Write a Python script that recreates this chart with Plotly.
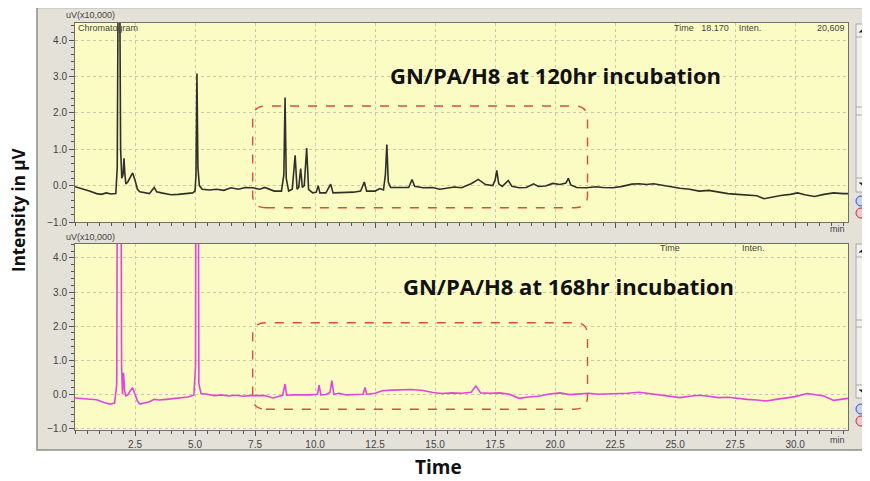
import plotly.graph_objects as go

# the page body has an 8px margin, so the figure is sized to the remaining viewport
OFF = 8
W, H = 870 - OFF, 481 - OFF

# chromatogram at 120 hr (time in min, intensity in uV x10,000)
t_120 = [0.0, 0.3, 0.6, 0.9, 1.1, 1.3, 1.5, 1.7, 1.76, 1.8, 1.86, 1.9, 1.95, 2.0, 2.04,
         2.08, 2.12, 2.2, 2.3, 2.4, 2.5, 2.6, 2.7, 2.9, 3.1, 3.3, 3.4, 3.6, 3.8, 4.0,
         4.3, 4.6, 4.9, 5.0, 5.04, 5.08, 5.12, 5.18, 5.3, 5.6, 5.9, 6.2, 6.5, 6.8, 7.1,
         7.4, 7.7, 7.9, 8.3, 8.6, 8.7, 8.75, 8.8, 8.9, 9.05, 9.17, 9.25, 9.32, 9.4, 9.47,
         9.55, 9.65, 9.73, 9.9, 10.05, 10.13, 10.2, 10.45, 10.65, 10.75, 11.0, 11.3, 11.6,
         11.9, 12.05, 12.15, 12.5, 12.7, 12.85, 12.93, 12.99, 13.05, 13.15, 13.5, 13.9,
         14.04, 14.15, 14.5, 14.9, 15.2, 15.5, 15.8, 16.1, 16.5, 16.8, 17.1, 17.4, 17.5,
         17.57, 17.65, 17.8, 18.05, 18.2, 18.5, 18.8, 19.1, 19.3, 19.6, 19.9, 20.2, 20.45,
         20.55, 20.65, 20.9, 21.3, 21.7, 22.0, 22.4, 22.8, 23.2, 23.5, 23.8, 24.1, 24.5,
         24.8, 25.2, 25.6, 26.0, 26.4, 26.8, 27.2, 27.6, 28.0, 28.4, 28.7, 29.0, 29.4,
         29.8, 30.1, 30.4, 30.8, 31.2, 31.6, 32.0, 32.2]
v_120 = [-0.03, -0.08, -0.15, -0.22, -0.24, -0.2, -0.23, -0.22, 0.5, 6.0, 6.0, 1.0, 0.2, 0.3, 0.75,
         0.3, 0.05, 0.1, 0.25, 0.35, 0.15, -0.1, -0.17, -0.2, -0.22, -0.05, -0.17, -0.2, -0.22, -0.25,
         -0.24, -0.23, -0.2, -0.15, 0.3, 3.08, 0.5, 0.0, -0.1, -0.12, -0.1, -0.13, -0.06, -0.1, -0.05,
         -0.06, -0.1, -0.05, -0.15, -0.15, 0.3, 2.42, 0.2, -0.15, -0.1, 0.83, -0.1, -0.05, 0.47, -0.05,
         0.0, 1.03, -0.1, -0.2, -0.18, 0.0, -0.2, -0.2, 0.04, -0.2, -0.2, -0.2, -0.18,
         -0.15, 0.1, -0.15, -0.15, -0.08, -0.12, 0.3, 1.13, 0.1, -0.05, -0.05, -0.05,
         0.17, -0.02, -0.06, -0.05, -0.1, -0.07, -0.04, -0.06, 0.05, 0.17, 0.03, 0.0, 0.15,
         0.42, 0.05, -0.02, 0.14, -0.02, -0.06, -0.05, 0.05, -0.02, -0.01, 0.06, 0.03, 0.07,
         0.2, 0.02, -0.05, -0.06, -0.03, -0.05, -0.06, -0.02, 0.04, 0.05, 0.03, 0.05, 0.0,
         -0.04, -0.07, -0.1, -0.15, -0.13, -0.18, -0.22, -0.24, -0.25, -0.28, -0.36, -0.32, -0.27,
         -0.24, -0.2, -0.25, -0.3, -0.24, -0.2, -0.22, -0.22]

# chromatogram at 168 hr
t_168 = [0.0, 0.3, 0.6, 0.9, 1.2, 1.46, 1.65, 1.74, 1.78, 1.9, 1.94, 1.98, 2.02, 2.07, 2.12,
         2.2, 2.3, 2.4, 2.5, 2.6, 2.7, 2.9, 3.1, 3.3, 3.5, 3.8, 4.1, 4.4, 4.7, 4.95,
         5.02, 5.05, 5.12, 5.16, 5.25, 5.5, 5.8, 6.1, 6.4, 6.7, 7.0, 7.3, 7.6, 7.9, 8.25,
         8.5, 8.65, 8.75, 8.82, 9.1, 9.5, 9.8, 10.1, 10.17, 10.24, 10.45, 10.62, 10.7, 10.78,
         11.0, 11.3, 11.7, 12.0, 12.08, 12.15, 12.5, 12.8, 13.2, 13.6, 14.0, 14.5, 14.9,
         15.3, 15.7, 16.1, 16.5, 16.7, 16.9, 17.3, 17.7, 18.1, 18.5, 18.9, 19.3, 19.7, 20.2,
         20.6, 21.0, 21.4, 21.8, 22.2, 22.6, 23.0, 23.5, 23.9, 24.3, 24.7, 25.2, 25.6, 26.0,
         26.4, 26.8, 27.2, 27.6, 28.0, 28.4, 28.8, 29.2, 29.6, 30.0, 30.5, 30.9, 31.2, 31.6,
         32.0, 32.2]
v_168 = [-0.11, -0.12, -0.15, -0.16, -0.24, -0.29, -0.26, 0.3, 12.0, 12.0, 0.83, 0.0, 0.63, 0.1, -0.05,
         -0.02, 0.1, 0.19, 0.0, -0.2, -0.29, -0.25, -0.22, -0.15, -0.17, -0.15, -0.13, -0.1, -0.08, -0.03,
         0.8, 12.0, 12.0, 0.3, 0.02, 0.0, -0.04, -0.02, -0.05, -0.03, -0.06, -0.04, -0.05, -0.04, -0.11,
         -0.06, -0.03, 0.3, -0.03, -0.02, -0.03, -0.02, 0.0, 0.27, -0.02, -0.01, 0.05, 0.4, 0.0,
         0.03, -0.02, -0.01, 0.0, 0.2, 0.0, 0.03, 0.1, 0.12, 0.13, 0.14, 0.11, 0.05,
         0.02, 0.04, 0.03, 0.06, 0.24, 0.04, 0.03, 0.04, 0.0, -0.12, -0.08, -0.06, 0.0, 0.04,
         -0.01, 0.0, 0.03, 0.0, 0.01, 0.0, 0.03, 0.06, 0.02, -0.03, -0.05, -0.1, -0.06, -0.03,
         -0.06, -0.1, -0.09, -0.13, -0.15, -0.17, -0.2, -0.15, -0.1, -0.07, 0.02, -0.03, -0.05, -0.18,
         -0.14, -0.12]

x_ticks = [2.5, 5.0, 7.5, 10.0, 12.5, 15.0, 17.5, 20.0, 22.5, 25.0, 27.5, 30.0]
y_ticks = [-1.0, 0.0, 1.0, 2.0, 3.0, 4.0]

# highlighted retention-time window (min) and intensity span per panel
box_t = (7.4, 21.35)
box_v_120 = (-0.61, 2.19)
box_v_168 = (-0.44, 2.1)


def px(x):
    return (x - OFF) / W


def py(y):
    return 1 - (y - OFF) / H


def rounded_box(t0, t1, v0, v1, rt, rv):
    return (f"M {t0 + rt},{v0} L {t1 - rt},{v0} Q {t1},{v0} {t1},{v0 + rv} "
            f"L {t1},{v1 - rv} Q {t1},{v1} {t1 - rt},{v1} L {t0 + rt},{v1} "
            f"Q {t0},{v1} {t0},{v1 - rv} L {t0},{v0 + rv} Q {t0},{v0} {t0 + rt},{v0} Z")


def tri(xc, yc, up):
    # small scroll arrow in pixel space -> paper path
    d = -3 if up else 3
    return (f"M {px(xc - 3.5)},{py(yc - d / 2)} L {px(xc + 3.5)},{py(yc - d / 2)} "
            f"L {px(xc)},{py(yc + d / 2)} Z")


fig = go.Figure()
fig.add_trace(go.Scatter(x=t_120, y=v_120, xaxis="x", yaxis="y", mode="lines",
                         line=dict(color="#30302a", width=1.6), showlegend=False))
fig.add_trace(go.Scatter(x=t_168, y=v_168, xaxis="x2", yaxis="y2", mode="lines",
                         line=dict(color="#e045dc", width=1.6), showlegend=False))

tick_font = dict(family="Liberation Sans, Arial", size=10, color="#444444")
xdom = [px(75), px(848)]

xaxis_common = dict(
    range=[0, 32.2], tickvals=x_ticks, tickformat=".1f", ticks="outside", ticklen=5,
    tickcolor="#555555", showline=True, linecolor="#707068", linewidth=1, mirror=True,
    showgrid=True, gridcolor="#c9c9ad", griddash="dot", gridwidth=1, zeroline=False,
    tickfont=tick_font, domain=xdom, automargin=False,
    minor=dict(tickmode="linear", tick0=0, dtick=0.5, ticks="outside", ticklen=3,
               tickcolor="#555555", showgrid=False),
)
yaxis_common = dict(
    tickvals=y_ticks, tickformat=".1f", ticks="outside", ticklen=5, tickcolor="#555555",
    showline=True, linecolor="#707068", linewidth=1, mirror=True, automargin=False,
    showgrid=True, gridcolor="#c9c9ad", griddash="dot", zeroline=False, tickfont=tick_font,
    minor=dict(tickmode="linear", tick0=0, dtick=0.2, ticks="outside", ticklen=3,
               tickcolor="#555555", showgrid=False),
)

fig.update_layout(
    width=W, height=H, margin=dict(l=0, r=0, t=0, b=0, pad=0),
    paper_bgcolor="white", plot_bgcolor="rgba(0,0,0,0)",
    xaxis=dict(xaxis_common, anchor="y", showticklabels=False),
    yaxis=dict(yaxis_common, anchor="x", range=[-1.0, 4.47], domain=[py(222), py(23)]),
    xaxis2=dict(xaxis_common, anchor="y2"),
    yaxis2=dict(yaxis_common, anchor="x2", range=[-1.05, 4.41], domain=[py(430), py(244)]),
)

edge = "#a8a8a0"
shapes = [
    # window frame
    dict(type="rect", xref="paper", yref="paper", x0=px(37), x1=px(872), y0=py(450), y1=py(7.5),
         fillcolor="#e3e1d8", line=dict(color="#8e8e86", width=1.5), layer="below"),
    # plot backgrounds
    dict(type="rect", xref="paper", yref="paper", x0=xdom[0], x1=xdom[1], y0=py(222), y1=py(23),
         fillcolor="#fbfbc4", line=dict(width=0), layer="below"),
    dict(type="rect", xref="paper", yref="paper", x0=xdom[0], x1=xdom[1], y0=py(430), y1=py(244),
         fillcolor="#fbfbc4", line=dict(width=0), layer="below"),
    # scroll strips
    dict(type="rect", xref="paper", yref="paper", x0=px(856), x1=px(871), y0=py(192), y1=py(24),
         fillcolor="#f2f1ec", line=dict(color=edge, width=1), layer="below"),
    dict(type="rect", xref="paper", yref="paper", x0=px(856), x1=px(871), y0=py(398), y1=py(244),
         fillcolor="#f2f1ec", line=dict(color=edge, width=1), layer="below"),
]
for yy in (37, 107, 115, 178, 257, 320, 327, 385):
    shapes.append(dict(type="line", xref="paper", yref="paper", x0=px(856), x1=px(871),
                       y0=py(yy), y1=py(yy), line=dict(color=edge, width=1)))
for yy, up in ((31, True), (184, False), (251, True), (391, False)):
    shapes.append(dict(type="path", xref="paper", yref="paper", path=tri(862, yy, up),
                       fillcolor="#222222", line=dict(width=0)))
# zoom buttons
for yy, fc, lc in ((201, "#c8d4f0", "#3050c0"), (213, "#f0c8c8", "#c03030"),
                   (409, "#c8d4f0", "#3050c0"), (421, "#f0c8c8", "#c03030")):
    shapes.append(dict(type="circle", xref="paper", yref="paper", x0=px(856), x1=px(866),
                       y0=py(yy + 5), y1=py(yy - 5), fillcolor=fc, line=dict(color=lc, width=1)))
# highlighted windows
shapes.append(dict(type="path", xref="x", yref="y",
                   path=rounded_box(box_t[0], box_t[1], box_v_120[0], box_v_120[1], 0.55, 0.35),
                   line=dict(color="#e04a3c", width=1.4, dash="dash")))
shapes.append(dict(type="path", xref="x2", yref="y2",
                   path=rounded_box(box_t[0], box_t[1], box_v_168[0], box_v_168[1], 0.55, 0.37),
                   line=dict(color="#e04a3c", width=1.4, dash="dash")))
fig.update_layout(shapes=shapes)

small = dict(family="Liberation Sans, Arial", size=9, color="#444444")
bold = dict(family="Open Sans", size=22, color="#111111")


def note(x, y, text, font, xanchor="left", yanchor="middle", angle=0):
    fig.add_annotation(x=px(x), y=py(y), xref="paper", yref="paper", text=text, font=font,
                       showarrow=False, xanchor=xanchor, yanchor=yanchor, textangle=angle)


note(64, 15, "uV(x10,000)", small)
note(76, 28, "Chromatogram", small)
note(672, 28, "Time   18.170    Inten.", small)
note(847, 28, "20,609", small, xanchor="right")
note(847, 229, "min", small, xanchor="right")
note(64, 237, "uV(x10,000)", small)
note(658, 248, "Time", small)
note(740, 248, "Inten.", small)
note(847, 440, "min", small, xanchor="right")

note(555, 75, "<b>GN/PA/H8 at 120hr incubation</b>", bold, xanchor="center")
note(568, 286, "<b>GN/PA/H8 at 168hr incubation</b>", bold, xanchor="center")
note(438, 467, "<b>Time</b>", dict(family="Open Sans", size=19, color="#111111"), xanchor="center")
note(19, 210, "<b>Intensity in µV</b>", dict(family="Open Sans", size=17, color="#111111"),
     xanchor="center", angle=-90)

fig.write_html("out.html")
